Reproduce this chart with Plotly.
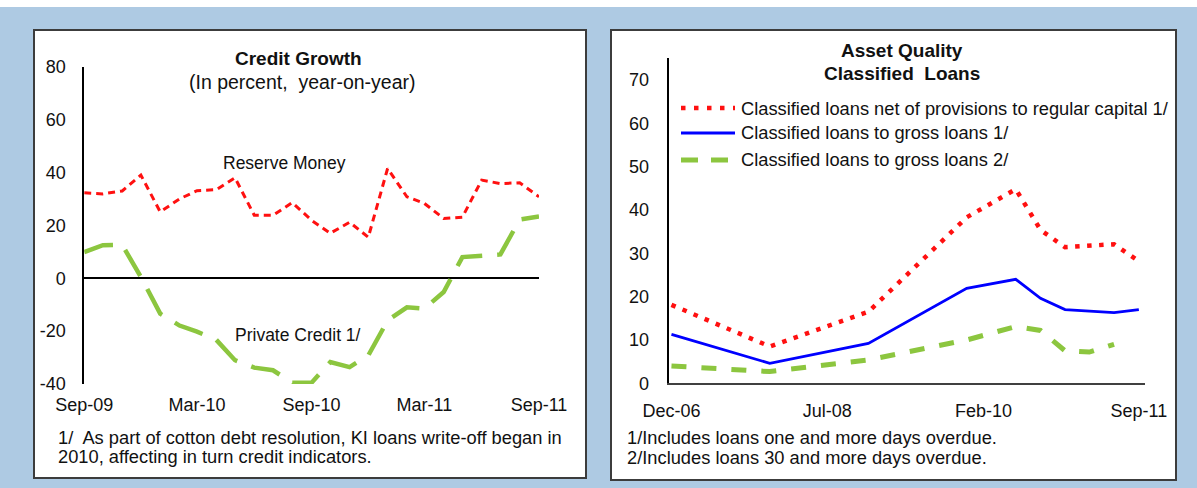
import pandas as pd
import plotly.graph_objects as go

W, H = 1197, 488
FONT = "Liberation Sans, Arial, sans-serif"
TEXT_COLOR = "#111111"
BG_COLOR = "#aecae3"
BOX_LINE = "#3c3c3c"
RED = "#ff1010"
GREEN = "#8cc63f"
BLUE = "#0000ff"

# ---- left panel: credit growth (monthly, Sep-09 .. Sep-11)
credit_months = pd.date_range("2009-09-01", "2011-09-01", freq="MS")
reserve_money = [32.3, 31.9, 33.0, 39.0, 25.1, 30.0, 33.1, 33.5, 38.0, 23.8,
                 23.8, 28.6, 21.9, 17.0, 21.2, 15.5, 41.5, 30.8, 28.3, 22.6,
                 23.1, 37.1, 35.8, 36.1, 30.8]
private_credit = [9.9, 12.5, 12.6, 0.5, -13.4, -17.9, -20.2, -23.3, -31.0, -33.8,
                  -34.8, -39.5, -39.5, -31.7, -33.6, -29.2, -16.0, -11.0, -11.5, -5.2,
                  8.0, 8.5, 9.0, 22.2, 23.4]
credit_tickvals = ["2009-09-01", "2010-03-01", "2010-09-01", "2011-03-01", "2011-09-01"]
credit_ticktext = ["Sep-09", "Mar-10", "Sep-10", "Mar-11", "Sep-11"]
growth_yticks = [-40, -20, 0, 20, 40, 60, 80]
growth_yticktext = ["-40", "-20", "0", "20", "40", "60", "80"]

# ---- right panel: asset quality (irregular dates)
quality_dates = ["2006-12-01", "2007-12-01", "2008-12-01", "2009-12-01", "2010-06-01",
                 "2010-09-01", "2010-12-01", "2011-03-01", "2011-06-01", "2011-09-01"]
net_to_capital = [18.1, 8.5, 16.5, 38.3, 44.8, 35.4, 31.4, 31.8, 32.1, 28.2]
gross_loans_1 = [11.3, 4.6, 9.2, 21.9, 24.0, 19.6, 17.0, 16.6, 16.3, 17.0]
gross_loans_2 = [4.0, 2.7, 5.4, 10.0, 13.1, 12.2, 7.5, 7.2, 9.0, None]
quality_tickvals = ["2006-12-01", "2008-07-01", "2010-02-01", "2011-09-01"]
quality_ticktext = ["Dec-06", "Jul-08", "Feb-10", "Sep-11"]
quality_yticks = [0, 10, 20, 30, 40, 50, 60, 70]

legend_labels = [
    "Classified loans net of provisions to regular capital 1/",
    "Classified loans to gross loans 1/",
    "Classified loans to gross loans 2/",
]


def px(x):
    return x / W


def py(y):
    return 1 - y / H


fig = go.Figure()

fig.add_trace(go.Scatter(x=credit_months, y=reserve_money, mode="lines",
                         line=dict(color=RED, width=3, dash="7px,5px"),
                         xaxis="x", yaxis="y"))
fig.add_trace(go.Scatter(x=credit_months, y=private_credit, mode="lines",
                         line=dict(color=GREEN, width=4.5, dash="30px,15px"),
                         xaxis="x", yaxis="y"))

fig.add_trace(go.Scatter(x=quality_dates, y=net_to_capital, mode="lines",
                         line=dict(color=RED, width=4.5, dash="4.5px,7.5px"),
                         xaxis="x2", yaxis="y2"))
fig.add_trace(go.Scatter(x=quality_dates, y=gross_loans_1, mode="lines",
                         line=dict(color=BLUE, width=2.8),
                         xaxis="x2", yaxis="y2"))
fig.add_trace(go.Scatter(x=quality_dates, y=gross_loans_2, mode="lines",
                         line=dict(color=GREEN, width=5, dash="15px,15px"),
                         xaxis="x2", yaxis="y2"))

tick_font = dict(family=FONT, size=18, color=TEXT_COLOR)
axis_common = dict(tickfont=tick_font, ticks="", showgrid=False, automargin=False)

fig.update_layout(
    width=W,
    height=H,
    margin=dict(l=0, r=0, t=0, b=0, pad=0),
    paper_bgcolor=BG_COLOR,
    plot_bgcolor="rgba(0,0,0,0)",
    showlegend=False,
    font=dict(family=FONT, color=TEXT_COLOR),
    xaxis=dict(
        axis_common,
        domain=[px(84.2), px(539)],
        range=["2009-09-01", "2011-09-01"],
        tickvals=credit_tickvals,
        ticktext=credit_ticktext,
        ticklabelstandoff=8,
        showline=False,
        zeroline=False,
        anchor="y",
    ),
    yaxis=dict(
        axis_common,
        domain=[py(384), py(66.7)],
        range=[-40, 80],
        tickvals=growth_yticks,
        ticktext=growth_yticktext,
        ticklabelstandoff=13,
        showline=True,
        linecolor="black",
        linewidth=1.5,
        zeroline=True,
        zerolinecolor="black",
        zerolinewidth=1.5,
        anchor="x",
    ),
    xaxis2=dict(
        axis_common,
        domain=[px(669.3), px(1144.5)],
        range=["2006-11-23", "2011-09-22"],
        tickvals=quality_tickvals,
        ticktext=quality_ticktext,
        ticklabelstandoff=10,
        showline=True,
        linecolor="#404040",
        linewidth=2,
        zeroline=False,
        anchor="y2",
    ),
    yaxis2=dict(
        axis_common,
        domain=[py(383.3), py(58.3)],
        range=[0, 75],
        tickvals=quality_yticks,
        ticklabelstandoff=15,
        showline=True,
        linecolor="black",
        linewidth=1.5,
        zeroline=False,
        anchor="x2",
    ),
)

# panel backgrounds
shapes = [
    dict(type="rect", xref="paper", yref="paper", x0=0, x1=1, y0=py(7), y1=1,
         fillcolor="white", line_width=0, layer="below"),
    dict(type="rect", xref="paper", yref="paper", x0=px(34), x1=px(586),
         y0=py(478), y1=py(30), fillcolor="white",
         line=dict(color=BOX_LINE, width=2), layer="below"),
    dict(type="rect", xref="paper", yref="paper", x0=px(611), x1=px(1176),
         y0=py(480), y1=py(30), fillcolor="white",
         line=dict(color=BOX_LINE, width=2), layer="below"),
]

# legend samples for right panel
legend_styles = [
    dict(color=RED, width=4.5, dash="4.5px,8.5px"),
    dict(color=BLUE, width=2.8),
    dict(color=GREEN, width=5, dash="17px,13px"),
]
legend_rows = [108, 133, 160]
for style, row in zip(legend_styles, legend_rows):
    shapes.append(dict(type="line", xref="paper", yref="paper",
                       x0=px(681), x1=px(735), y0=py(row), y1=py(row), line=style))
fig.update_layout(shapes=shapes)


def add_text(text, x, y, size=18, bold=False, xanchor="center", xref="paper", yref="paper"):
    if bold:
        text = f"<b>{text}</b>"
    fig.add_annotation(
        text=text, x=x, y=y, xref=xref, yref=yref, xanchor=xanchor, yanchor="middle",
        showarrow=False, font=dict(family=FONT, size=size, color=TEXT_COLOR),
    )


# left panel texts
add_text("Credit Growth", px(298.5), py(58.3), size=19, bold=True)
add_text("(In percent,  year-on-year)", px(302), py(81.7), size=19.5)
add_text("Reserve Money", "2010-07-19", 43.4, size=17.5, xref="x", yref="y")
add_text("Private Credit 1/", "2010-08-10", -21.6, size=17.5, xref="x", yref="y")
add_text("1/  As part of cotton debt resolution, KI loans write-off began in",
         px(56), py(437), size=18.3, xanchor="left")
add_text("2010, affecting in turn credit indicators.",
         px(56), py(456), size=18.3, xanchor="left")

# right panel texts
add_text("Asset Quality", px(901.7), py(50.7), size=19, bold=True)
add_text("Classified  Loans", px(901.7), py(73.3), size=19, bold=True)
for label, row in zip(legend_labels, legend_rows):
    add_text(label, px(739), py(row), size=18.3, xanchor="left")
add_text("1/Includes loans one and more days overdue.",
         px(625), py(437.3), size=18.3, xanchor="left")
add_text("2/Includes loans 30 and more days overdue.",
         px(625), py(457.3), size=18.3, xanchor="left")

# drop the default body margin so the figure sits at the page corner
fig.write_html(
    "out.html",
    config={"displayModeBar": False},
    post_script="document.body.style.margin = '0';",
)
